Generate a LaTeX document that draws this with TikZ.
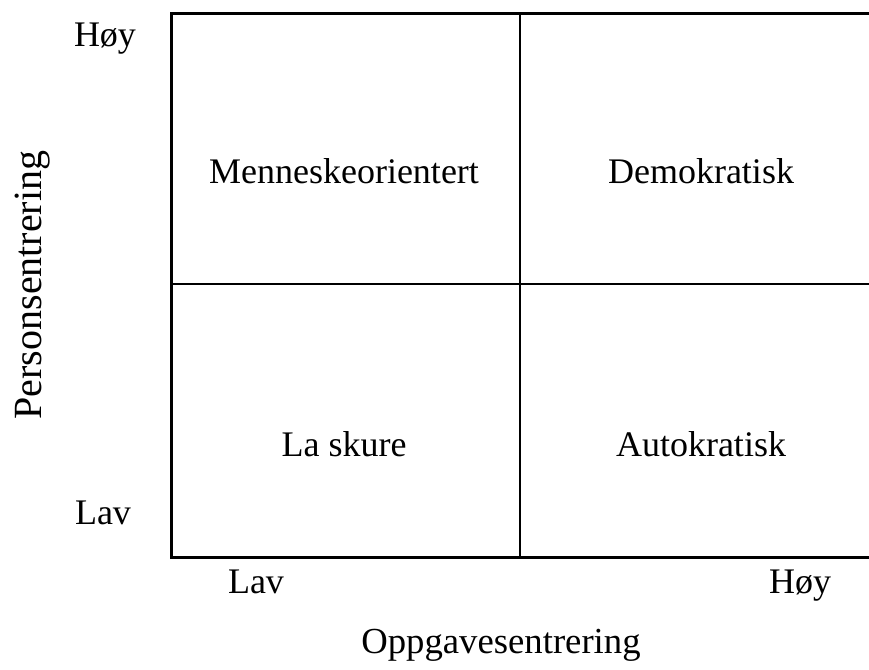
\documentclass[tikz,border=0pt]{standalone}
\usepackage{fontspec}
\setmainfont{Liberation Serif}
\begin{document}
\begin{tikzpicture}[x=1pt,y=-1pt,
  gridline/.style={line width=3pt,line cap=rect},
  divider/.style={line width=2.6pt},
  lbl/.style={anchor=base,inner sep=0pt,font=\fontsize{36}{40}\selectfont}]
\useasboundingbox (0,0) rectangle (869,669);
% frame corners and quadrant dividers
\coordinate (tl) at (171,14);
\coordinate (tr) at (869,14);
\coordinate (bl) at (171,557);
\coordinate (br) at (869,557);
\coordinate (mt) at (520,14);
\coordinate (mb) at (520,557);
\coordinate (ml) at (171,284);
\coordinate (mr) at (869,284);
\draw[gridline] (tr) -- (tl) -- (bl) -- (br);
\draw[divider] (mt) -- (mb);
\draw[divider] (ml) -- (mr);
% quadrant labels
\node[lbl] (q1) at (344,183) {Menneskeorientert};
\node[lbl] (q2) at (701,183) {Demokratisk};
\node[lbl] (q3) at (344,456) {La skure};
\node[lbl] (q4) at (701,456) {Autokratisk};
% vertical axis
\node[lbl] (yhi) at (105,47) {Høy};
\node[lbl] (ylo) at (103,524) {Lav};
\node[lbl,rotate=90,font=\fontsize{40}{44}\selectfont] (ytitle) at (41,285) {Personsentrering};
% horizontal axis
\node[lbl] (xlo) at (256,593) {Lav};
\node[lbl] (xhi) at (800,593) {Høy};
\node[lbl,font=\fontsize{36.7}{40}\selectfont] (xtitle) at (501,653) {Oppgavesentrering};
\end{tikzpicture}
\end{document}
